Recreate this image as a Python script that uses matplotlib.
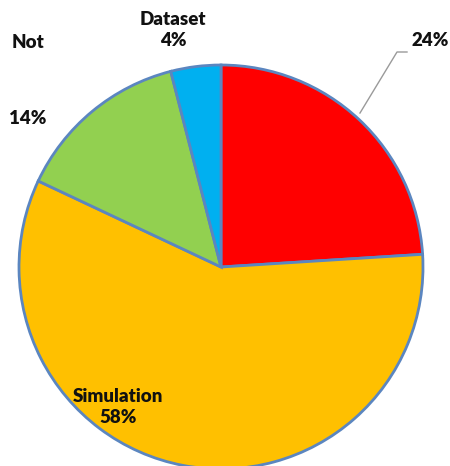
import matplotlib
matplotlib.use("Agg")
import matplotlib.pyplot as plt

categories = ["", "Simulation", "Not", "Dataset"]
values = [24, 58, 14, 4]
colors = ["#FF0000", "#FFC000", "#92D050", "#00B0F0"]

W, H = 450, 466
fig = plt.figure(figsize=(W / 100, H / 100), dpi=100)
ax = fig.add_axes([0, 0, 1, 1])

cx, cy, r = 221, H - 267, 202
ax.pie(values, colors=colors, startangle=90, counterclock=False,
       center=(cx, cy), radius=r,
       wedgeprops=dict(edgecolor="#5B86C0", linewidth=2))
ax.set_xlim(0, W)
ax.set_ylim(0, H)
ax.set_aspect("equal")
ax.axis("off")

font = dict(family="Lato", fontweight="heavy", fontsize=13.5, color="#111111",
            ha="center", va="center")

def y(v):
    return H - v

# label positions (pixels from top-left)
ax.text(430, y(40), f"{values[0]}%", **font)
ax.text(118, y(407), f"{categories[1]}\n{values[1]}%", linespacing=1.25, **font)
ax.text(28, y(43), categories[2], **font)
ax.text(28, y(118), f"{values[2]}%", **font)
ax.text(173, y(30), f"{categories[3]}\n{values[3]}%", linespacing=1.25, **font)

# leader line for the 24% label
ax.plot([407, 397, 360], [y(52), y(52), y(113)], color="#9a9a9a", lw=1)

fig.savefig("out.png", dpi=100)
